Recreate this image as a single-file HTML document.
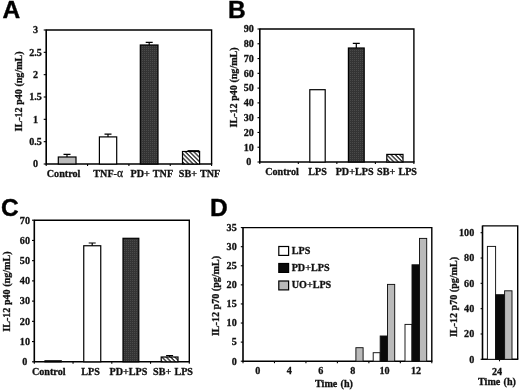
<!DOCTYPE html>
<html><head><meta charset="utf-8"><title>Figure</title>
<style>
html,body{margin:0;padding:0;background:#fff;}
body{width:520px;height:391px;overflow:hidden;}
svg{display:block;filter:blur(0.35px);}
.t{font-family:"Liberation Serif","DejaVu Serif",serif;font-weight:bold;font-size:10.15px;word-spacing:0.7px;fill:#111;stroke:#111;stroke-width:0.3px;}
.p{font-family:"Liberation Sans","DejaVu Sans",sans-serif;font-weight:bold;font-size:24.5px;fill:#000;stroke:#000;stroke-width:0.4px;}
.ax{stroke:#000;stroke-width:1.6;fill:none;}
.fr{stroke:#000;stroke-width:1.4;fill:none;}
.tk{stroke:#000;stroke-width:1.1;fill:none;}
.t.yl{font-size:10.1px;word-spacing:0;}
.bar{stroke:#000;stroke-width:1.2;}
.bar.bd{stroke:#111;stroke-width:0.95;}
.eb{stroke:#000;stroke-width:1.2;fill:none;}
</style></head><body>
<svg width="520" height="391" viewBox="0 0 520 391">
<defs>
<pattern id="hatch" width="3.05" height="3.05" patternUnits="userSpaceOnUse" patternTransform="rotate(45)">
<rect width="3.05" height="3.05" fill="#fff"/><line x1="0" y1="0.7" x2="3.05" y2="0.7" stroke="#000" stroke-width="1.1"/></pattern>
<pattern id="dark" width="2" height="2" patternUnits="userSpaceOnUse"><rect width="2" height="2" fill="#343434"/><rect width="1" height="1" fill="#4a4a4a"/></pattern>
</defs>
<rect width="520" height="391" fill="#fff"/>
<text class="p" x="2.4" y="18.3">A</text>
<path class="fr" d="M46.2 30H211.6V164"/>
<path class="ax" d="M46.2 29.5V164H212.2"/>
<line class="tk" x1="43.7" y1="164" x2="46.2" y2="164"/>
<text class="t" text-anchor="middle" x="35.6" y="167.3">0</text>
<line class="tk" x1="43.7" y1="141.67" x2="46.2" y2="141.67"/>
<text class="t" text-anchor="middle" x="35.6" y="144.97">0.5</text>
<line class="tk" x1="43.7" y1="119.33" x2="46.2" y2="119.33"/>
<text class="t" text-anchor="middle" x="35.6" y="122.63">1</text>
<line class="tk" x1="43.7" y1="97" x2="46.2" y2="97"/>
<text class="t" text-anchor="middle" x="35.6" y="100.3">1.5</text>
<line class="tk" x1="43.7" y1="74.67" x2="46.2" y2="74.67"/>
<text class="t" text-anchor="middle" x="35.6" y="77.97">2</text>
<line class="tk" x1="43.7" y1="52.33" x2="46.2" y2="52.33"/>
<text class="t" text-anchor="middle" x="35.6" y="55.63">2.5</text>
<line class="tk" x1="43.7" y1="30" x2="46.2" y2="30"/>
<text class="t" text-anchor="middle" x="35.6" y="33.3">3</text>
<line class="tk" x1="46.2" y1="164" x2="46.2" y2="166"/>
<line class="tk" x1="87.55" y1="164" x2="87.55" y2="166"/>
<line class="tk" x1="128.9" y1="164" x2="128.9" y2="166"/>
<line class="tk" x1="170.25" y1="164" x2="170.25" y2="166"/>
<line class="tk" x1="211.6" y1="164" x2="211.6" y2="166"/>
<text class="t yl" text-anchor="middle" transform="translate(21.7,91.4) rotate(-90)">IL-12 p40 (ng/mL)</text>
<rect class="bar" x="58.3" y="157" width="17.7" height="7" fill="#bababa"/>
<path class="eb" d="M67 157V154.3M63.5 154.3H70.5"/>
<rect class="bar" x="99.4" y="136.9" width="17.3" height="27.1" fill="#fff"/>
<path class="eb" d="M108 136.9V134.2M104.5 134.2H111.5"/>
<rect class="bar" x="140.3" y="45" width="17.7" height="119" fill="url(#dark)"/>
<path class="eb" d="M149.2 45V42.4M145.7 42.4H152.7"/>
<rect class="bar" x="182.5" y="151.5" width="17.1" height="12.5" fill="url(#hatch)"/>
<path d="M187.5 150.5H199.3" stroke="#000" stroke-width="0.9" fill="none"/>
<text class="t" text-anchor="middle" x="63.6" y="177.2">Control</text>
<text class="t" text-anchor="middle" x="108.2" y="177.2">TNF-<tspan font-weight="normal" font-size="11.5px">α</tspan></text>
<text class="t" text-anchor="middle" x="151.8" y="177.2">PD+ TNF</text>
<text class="t" text-anchor="middle" x="199.5" y="177.2">SB+ TNF</text>
<text class="p" x="228" y="17.5">B</text>
<path class="fr" d="M259.8 29H413.9V162"/>
<path class="ax" d="M259.8 28.5V162H414.5"/>
<line class="tk" x1="257.5" y1="162" x2="259.8" y2="162"/>
<text class="t" text-anchor="middle" x="248.8" y="165.3">0</text>
<line class="tk" x1="257.5" y1="147.22" x2="259.8" y2="147.22"/>
<text class="t" text-anchor="middle" x="248.8" y="150.52">10</text>
<line class="tk" x1="257.5" y1="132.44" x2="259.8" y2="132.44"/>
<text class="t" text-anchor="middle" x="248.8" y="135.74">20</text>
<line class="tk" x1="257.5" y1="117.67" x2="259.8" y2="117.67"/>
<text class="t" text-anchor="middle" x="248.8" y="120.97">30</text>
<line class="tk" x1="257.5" y1="102.89" x2="259.8" y2="102.89"/>
<text class="t" text-anchor="middle" x="248.8" y="106.19">40</text>
<line class="tk" x1="257.5" y1="88.11" x2="259.8" y2="88.11"/>
<text class="t" text-anchor="middle" x="248.8" y="91.41">50</text>
<line class="tk" x1="257.5" y1="73.33" x2="259.8" y2="73.33"/>
<text class="t" text-anchor="middle" x="248.8" y="76.63">60</text>
<line class="tk" x1="257.5" y1="58.56" x2="259.8" y2="58.56"/>
<text class="t" text-anchor="middle" x="248.8" y="61.86">70</text>
<line class="tk" x1="257.5" y1="43.78" x2="259.8" y2="43.78"/>
<text class="t" text-anchor="middle" x="248.8" y="47.08">80</text>
<line class="tk" x1="257.5" y1="29" x2="259.8" y2="29"/>
<text class="t" text-anchor="middle" x="248.8" y="32.3">90</text>
<line class="tk" x1="259.8" y1="162" x2="259.8" y2="164"/>
<line class="tk" x1="298.32" y1="162" x2="298.32" y2="164"/>
<line class="tk" x1="336.85" y1="162" x2="336.85" y2="164"/>
<line class="tk" x1="375.38" y1="162" x2="375.38" y2="164"/>
<line class="tk" x1="413.9" y1="162" x2="413.9" y2="164"/>
<text class="t yl" text-anchor="middle" transform="translate(237.1,87.4) rotate(-90)">IL-12 p40 (ng/mL)</text>
<rect class="bar" x="309.8" y="89.7" width="15.4" height="72.3" fill="#fff"/>
<rect class="bar" x="348.4" y="48" width="15.8" height="114" fill="url(#dark)"/>
<path class="eb" d="M356.3 48V43.3M352.8 43.3H359.8"/>
<rect class="bar" x="386.8" y="154.4" width="16.2" height="7.6" fill="url(#hatch)"/>
<text class="t" text-anchor="middle" x="282" y="175">Control</text>
<text class="t" text-anchor="middle" x="317.5" y="175">LPS</text>
<text class="t" text-anchor="middle" x="354.6" y="175">PD+LPS</text>
<text class="t" text-anchor="middle" x="397" y="175">SB+ LPS</text>
<text class="p" x="1.1" y="216.2">C</text>
<path class="fr" d="M34.3 220.2H189.3V361.8"/>
<path class="ax" d="M34.3 219.7V361.8H189.9"/>
<line class="tk" x1="32" y1="361.8" x2="34.3" y2="361.8"/>
<text class="t" text-anchor="middle" x="24.9" y="365.1">0</text>
<line class="tk" x1="32" y1="341.57" x2="34.3" y2="341.57"/>
<text class="t" text-anchor="middle" x="24.9" y="344.87">10</text>
<line class="tk" x1="32" y1="321.34" x2="34.3" y2="321.34"/>
<text class="t" text-anchor="middle" x="24.9" y="324.64">20</text>
<line class="tk" x1="32" y1="301.11" x2="34.3" y2="301.11"/>
<text class="t" text-anchor="middle" x="24.9" y="304.41">30</text>
<line class="tk" x1="32" y1="280.89" x2="34.3" y2="280.89"/>
<text class="t" text-anchor="middle" x="24.9" y="284.19">40</text>
<line class="tk" x1="32" y1="260.66" x2="34.3" y2="260.66"/>
<text class="t" text-anchor="middle" x="24.9" y="263.96">50</text>
<line class="tk" x1="32" y1="240.43" x2="34.3" y2="240.43"/>
<text class="t" text-anchor="middle" x="24.9" y="243.73">60</text>
<line class="tk" x1="32" y1="220.2" x2="34.3" y2="220.2"/>
<text class="t" text-anchor="middle" x="24.9" y="223.5">70</text>
<line class="tk" x1="34.3" y1="361.8" x2="34.3" y2="363.8"/>
<line class="tk" x1="73.05" y1="361.8" x2="73.05" y2="363.8"/>
<line class="tk" x1="111.8" y1="361.8" x2="111.8" y2="363.8"/>
<line class="tk" x1="150.55" y1="361.8" x2="150.55" y2="363.8"/>
<line class="tk" x1="189.3" y1="361.8" x2="189.3" y2="363.8"/>
<text class="t yl" text-anchor="middle" transform="translate(9.8,291.6) rotate(-90)">IL-12 p40 (ng/mL)</text>
<rect class="bar" x="45" y="360.8" width="16.25" height="1" fill="#bababa"/>
<rect class="bar" x="83.75" y="245.75" width="17" height="116.05" fill="#fff"/>
<path class="eb" d="M92.2 245.75V243M88.7 243H95.7"/>
<rect class="bar" x="123" y="238.3" width="15.8" height="123.5" fill="url(#dark)"/>
<rect class="bar" x="161.2" y="357" width="16.8" height="4.8" fill="url(#hatch)"/>
<path class="eb" d="M169.6 357V355.7M166.1 355.7H173.1"/>
<text class="t" text-anchor="middle" x="48.75" y="375">Control</text>
<text class="t" text-anchor="middle" x="90.6" y="375">LPS</text>
<text class="t" text-anchor="middle" x="128.5" y="375">PD+LPS</text>
<text class="t" text-anchor="middle" x="173" y="375">SB+ LPS</text>
<text class="p" x="210" y="216">D</text>
<path class="fr" d="M243 227.6H431.8V361.2"/>
<path class="ax" d="M243 227.1V361.2H432.4"/>
<line class="tk" x1="240.8" y1="361.2" x2="243" y2="361.2"/>
<text class="t" text-anchor="end" x="236.7" y="364.5">0</text>
<line class="tk" x1="240.8" y1="342.11" x2="243" y2="342.11"/>
<text class="t" text-anchor="end" x="236.7" y="345.41">5</text>
<line class="tk" x1="240.8" y1="323.03" x2="243" y2="323.03"/>
<text class="t" text-anchor="end" x="236.7" y="326.33">10</text>
<line class="tk" x1="240.8" y1="303.94" x2="243" y2="303.94"/>
<text class="t" text-anchor="end" x="236.7" y="307.24">15</text>
<line class="tk" x1="240.8" y1="284.86" x2="243" y2="284.86"/>
<text class="t" text-anchor="end" x="236.7" y="288.16">20</text>
<line class="tk" x1="240.8" y1="265.77" x2="243" y2="265.77"/>
<text class="t" text-anchor="end" x="236.7" y="269.07">25</text>
<line class="tk" x1="240.8" y1="246.69" x2="243" y2="246.69"/>
<text class="t" text-anchor="end" x="236.7" y="249.99">30</text>
<line class="tk" x1="240.8" y1="227.6" x2="243" y2="227.6"/>
<text class="t" text-anchor="end" x="236.7" y="230.9">35</text>
<line class="tk" x1="243" y1="361.2" x2="243" y2="363.2"/>
<line class="tk" x1="274.47" y1="361.2" x2="274.47" y2="363.2"/>
<line class="tk" x1="305.93" y1="361.2" x2="305.93" y2="363.2"/>
<line class="tk" x1="337.4" y1="361.2" x2="337.4" y2="363.2"/>
<line class="tk" x1="368.87" y1="361.2" x2="368.87" y2="363.2"/>
<line class="tk" x1="400.33" y1="361.2" x2="400.33" y2="363.2"/>
<line class="tk" x1="431.8" y1="361.2" x2="431.8" y2="363.2"/>
<text class="t yl" text-anchor="middle" transform="translate(219,296) rotate(-90)">IL-12 p70 (pg/mL)</text>
<rect class="bar bd" x="355.9" y="347.7" width="7.2" height="13.5" fill="#bababa"/>
<rect class="bar bd" x="373.2" y="352.7" width="7" height="8.5" fill="#fff"/>
<rect class="bar bd" x="380.2" y="336" width="7.3" height="25.2" fill="#0a0a0a"/>
<rect class="bar bd" x="387.5" y="284.4" width="7.2" height="76.8" fill="#bababa"/>
<rect class="bar bd" x="405" y="324.4" width="7" height="36.8" fill="#fff"/>
<rect class="bar bd" x="412" y="264.8" width="7.5" height="96.4" fill="#0a0a0a"/>
<rect class="bar bd" x="419.5" y="238.4" width="7.2" height="122.8" fill="#bababa"/>
<text class="t" text-anchor="middle" x="257.7" y="373.75">0</text>
<text class="t" text-anchor="middle" x="289.4" y="373.75">4</text>
<text class="t" text-anchor="middle" x="320.8" y="373.75">6</text>
<text class="t" text-anchor="middle" x="352.8" y="373.75">8</text>
<text class="t" text-anchor="middle" x="384.5" y="373.75">10</text>
<text class="t" text-anchor="middle" x="416.1" y="373.75">12</text>
<text class="t" text-anchor="middle" x="334" y="387">Time (h)</text>
<rect class="bar" x="278.8" y="246.5" width="9.8" height="8.9" fill="#fff"/>
<text class="t" text-anchor="start" x="291.7" y="254.4">LPS</text>
<rect class="bar" x="278.8" y="263.5" width="9.8" height="8.9" fill="#0a0a0a"/>
<text class="t" text-anchor="start" x="291.7" y="270.5">PD+LPS</text>
<rect class="bar" x="278.8" y="281" width="9.8" height="8.9" fill="#bababa"/>
<text class="t" text-anchor="start" x="291.7" y="288.4">UO+LPS</text>
<path class="fr" d="M482.5 225.9H517.7V359.3"/>
<path class="ax" d="M482.5 225.4V359.3H518.3"/>
<line class="tk" x1="480.6" y1="359.3" x2="482.5" y2="359.3"/>
<text class="t" text-anchor="end" x="474.2" y="362.6">0</text>
<line class="tk" x1="480.6" y1="333.98" x2="482.5" y2="333.98"/>
<text class="t" text-anchor="end" x="474.2" y="337.28">20</text>
<line class="tk" x1="480.6" y1="308.66" x2="482.5" y2="308.66"/>
<text class="t" text-anchor="end" x="474.2" y="311.96">40</text>
<line class="tk" x1="480.6" y1="283.34" x2="482.5" y2="283.34"/>
<text class="t" text-anchor="end" x="474.2" y="286.64">60</text>
<line class="tk" x1="480.6" y1="258.02" x2="482.5" y2="258.02"/>
<text class="t" text-anchor="end" x="474.2" y="261.32">80</text>
<line class="tk" x1="480.6" y1="232.7" x2="482.5" y2="232.7"/>
<text class="t" text-anchor="end" x="474.2" y="236">100</text>
<line class="tk" x1="499.5" y1="359.3" x2="499.5" y2="361.3"/>
<text class="t yl" text-anchor="middle" transform="translate(456.6,297) rotate(-90)">IL-12 p70 (pg/mL)</text>
<rect class="bar bd" x="487.4" y="246.4" width="8.2" height="112.9" fill="#fff"/>
<rect class="bar bd" x="495.6" y="294.7" width="9" height="64.6" fill="#0a0a0a"/>
<rect class="bar bd" x="504.6" y="290.8" width="7.4" height="68.5" fill="#bababa"/>
<text class="t" text-anchor="middle" x="497.1" y="374.8">24</text>
<text class="t" text-anchor="middle" x="497" y="384.7">Time (h)</text>
</svg></body></html>
